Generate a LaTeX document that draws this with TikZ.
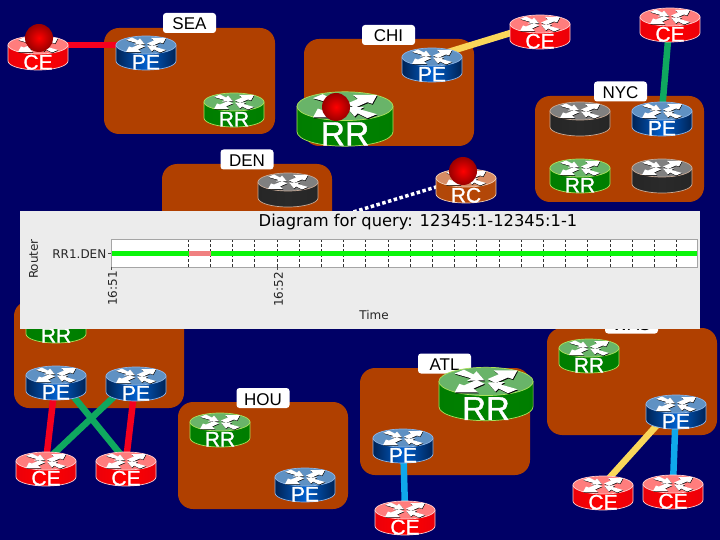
\documentclass[tikz,border=0pt]{standalone}
\usepackage{fontspec}
\setmainfont{Liberation Sans}
\newfontfamily\plotfont{DejaVu Sans}
\newfontfamily\labelfont[FakeBold=1.2]{Liberation Sans}
\pgfdeclarelayer{regions}
\pgfdeclarelayer{links}
\pgfdeclarelayer{panel}
\pgfsetlayers{regions,links,main,panel}
\definecolor{navybg}{RGB}{0,0,102}
\definecolor{regionc}{RGB}{176,64,0}
\definecolor{CEside}{RGB}{235,0,10}\definecolor{CEmid}{RGB}{255,0,0}\definecolor{CEtop}{RGB}{255,125,125}\definecolor{CEline}{RGB}{255,205,205}
\definecolor{PEside}{RGB}{0,35,85}\definecolor{PEmid}{RGB}{0,95,205}\definecolor{PEtop}{RGB}{95,145,195}\definecolor{PEline}{RGB}{140,180,230}
\definecolor{RRside}{RGB}{0,125,0}\definecolor{RRmid}{RGB}{0,130,0}\definecolor{RRtop}{RGB}{105,180,105}\definecolor{RRline}{RGB}{170,225,90}
\definecolor{GYside}{RGB}{38,38,38}\definecolor{GYmid}{RGB}{42,42,42}\definecolor{GYtop}{RGB}{128,128,128}\definecolor{GYline}{RGB}{200,170,150}
\definecolor{RCside}{RGB}{176,72,10}\definecolor{RCmid}{RGB}{182,70,5}\definecolor{RCtop}{RGB}{215,140,100}\definecolor{RCline}{RGB}{240,205,180}
\definecolor{linkred}{RGB}{245,0,30}
\definecolor{linkgreen}{RGB}{15,168,95}
\definecolor{linkyellow}{RGB}{250,215,90}
\definecolor{linkblue}{RGB}{15,168,235}
\definecolor{panelgrey}{RGB}{236,236,236}
\definecolor{framegrey}{RGB}{165,165,165}
\definecolor{barpink}{RGB}{240,128,128}
\definecolor{bargreen}{RGB}{10,245,10}
\tikzset{
 regionbox/.style={fill=regionc,rounded corners=15},
 tagbox/.style={fill=white,rounded corners=3,inner sep=0,minimum width=53,minimum height=20,text height=14pt,text depth=0pt,text=black,font=\fontsize{17}{19}\selectfont},
 rlabel/.style={text=white,inner sep=0,anchor=base,font=\labelfont\fontsize{21}{23}\selectfont,transform shape},
 linkstyle/.style={line width=6.5},
 plottext/.style={inner sep=0,text=black!85,font=\plotfont\fontsize{12}{14}\selectfont},
 gridline/.style={black!80,line width=0.6,dash pattern=on 3 off 2},
}
\newcommand{\rglyph}{%
 \fill (1,-1.5)--(8,-4.5)--(5,-7)--(20,-7)--(17,-1.5)--(14,-2.5)--(6,1)--cycle;
 \fill (-1,1.5)--(-8,4.5)--(-5,7)--(-20,7)--(-17,1.5)--(-14,2.5)--(-6,-1)--cycle;
 \fill (-20,-5)--(-14,-7.5)--(-8,-4.5)--(-6,-6.5)--(-1,-0.7)--(-12,-0.4)--(-9.5,-2)--cycle;
 \fill (20,5)--(14,7.5)--(8,4.5)--(6,6.5)--(1,0.7)--(12,0.4)--(9.5,2)--cycle;
}
% name, x, y, kind, label, scale
\newcommand{\router}[6]{%
 \begin{scope}[shift={(#2,#3)},scale=#6]
  \coordinate (#1-t) at (0,-8);
  \node[inner sep=0,minimum width=60,minimum height=34,transform shape] (#1) at (0,0) {};
  \shade[left color=#4side,right color=#4side,middle color=#4mid,draw=#4line,line width=0.7]
    (-30,-8)--(-30,8) .. controls (-30,13) and (-16.6,17) .. (0,17) .. controls (16.6,17) and (30,13) .. (30,8)--(30,-8)--cycle;
  \fill[#4top,draw=#4line,line width=0.7] (0,-8) ellipse [x radius=30,y radius=9];
  \begin{scope}[shift={(0,-8)}]
   \begin{scope}[shift={(0.4,0.6)},black]\rglyph\end{scope}
   \begin{scope}[white]\rglyph\end{scope}
  \end{scope}
  \node[rlabel] at (0,16.5) {#5};
 \end{scope}}
\newcommand{\redball}[3]{\shade[inner color=red,outer color=red!60!black,draw=none] (#2,#3) circle [radius=14] coordinate (#1);}
\begin{document}
\begin{tikzpicture}[x=1pt,y=-1pt]
\useasboundingbox (0,0) rectangle (720,540);
\begin{pgfonlayer}{regions}
 \fill[navybg] (0,0) rectangle (720,540);
 \fill[regionbox] (104,28) rectangle (275,134);
 \fill[regionbox] (304,39) rectangle (474,146);
 \fill[regionbox] (535,96) rectangle (704,202);
 \fill[regionbox] (162,164) rectangle (332,271);
 \fill[regionbox] (14,301) rectangle (184,408);
 \fill[regionbox] (178,402) rectangle (348,509);
 \fill[regionbox] (360,368) rectangle (530,475);
 \fill[regionbox] (547,328) rectangle (717,435);
 \node[tagbox] (tSEA) at (189.5,23) {SEA};
 \node[tagbox] (tCHI) at (388.5,35) {CHI};
 \node[tagbox] (tNYC) at (620.5,91.5) {NYC};
 \node[tagbox] (tDEN) at (247,159.5) {DEN};
 \node[tagbox] (tHOU) at (263,398) {HOU};
 \node[tagbox] (tATL) at (444.5,363.5) {ATL};
 \node[tagbox] (tWAS) at (631.5,323.5) {WAS};
\end{pgfonlayer}

\router{ceSEA}{38}{53}{CE}{CE}{1}
\router{peSEA}{146}{53}{PE}{PE}{1}
\router{rrSEA}{234}{110}{RR}{RR}{1}
\router{rrCHI}{345}{119}{RR}{RR}{1.6}
\router{peCHI}{432}{65}{PE}{PE}{1}
\router{ceCHI}{540}{32}{CE}{CE}{1}
\router{ceNYC}{670}{25}{CE}{CE}{1}
\router{gyNYCa}{580}{119}{GY}{}{1}
\router{peNYC}{662}{119}{PE}{PE}{1}
\router{rrNYC}{580}{176}{RR}{RR}{1}
\router{gyNYCb}{662}{176}{GY}{}{1}
\router{gyDEN}{288}{190}{GY}{}{1}
\router{rcDEN}{466}{186}{RC}{RC}{1}
\router{rrLAX}{56}{326}{RR}{RR}{1}
\router{peLAXa}{56}{383}{PE}{PE}{1}
\router{peLAXb}{136}{384}{PE}{PE}{1}
\router{ceLAXa}{46}{469}{CE}{CE}{1}
\router{ceLAXb}{126}{469}{CE}{CE}{1}
\router{rrHOU}{220}{430}{RR}{RR}{1}
\router{peHOU}{305}{485}{PE}{PE}{1}
\router{rrATL}{486}{394}{RR}{RR}{1.57}
\router{peATL}{403}{446}{PE}{PE}{1}
\router{ceATL}{405}{518}{CE}{CE}{1}
\router{rrWAS}{589}{356}{RR}{RR}{1}
\router{peWAS}{676}{412}{PE}{PE}{1}
\router{ceWASa}{603}{493}{CE}{CE}{1}
\router{ceWASb}{673}{492}{CE}{CE}{1}

\redball{ballCE}{39}{38}
\redball{ballRR}{336}{107}
\redball{ballRC}{463}{171}

\coordinate (dotEnd) at (340,216);
\begin{pgfonlayer}{links}
 \draw[linkstyle,linkred] (ceSEA-t) -- (peSEA-t);
 \draw[linkstyle,linkyellow] (peCHI-t) -- (ceCHI-t);
 \draw[linkstyle,linkgreen] (ceNYC-t) -- (peNYC-t);
 \draw[linkstyle,linkred] (peLAXa-t) -- (ceLAXa-t);
 \draw[linkstyle,linkred] (peLAXb-t) -- (ceLAXb-t);
 \draw[linkstyle,linkgreen] (peLAXa-t) -- (ceLAXb-t);
 \draw[linkstyle,linkgreen] (peLAXb-t) -- (ceLAXa-t);
 \draw[linkstyle,linkblue] (peATL-t) -- (ceATL-t);
 \draw[linkstyle,linkyellow] (peWAS-t) -- (ceWASa-t);
 \draw[linkstyle,linkblue] (peWAS-t) -- (ceWASb-t);
 \draw[white,line width=3.5,dash pattern=on 3.5 off 2.5] (rcDEN-t) -- (dotEnd);
\end{pgfonlayer}

\begin{pgfonlayer}{panel}
 \fill[panelgrey] (20,211) rectangle (700,329);
 \node[inner sep=0,text=black,font=\plotfont\fontsize{16.3}{19}\selectfont] (title) at (418,222.5) {Diagram for query: 12345:1-12345:1-1};
 \fill[white] (111,239) rectangle (697,267);
 \foreach \k in {0,...,22} \draw[gridline] (188+22.2*\k,239) -- (188+22.2*\k,267);
 \fill[bargreen] (111,251) rectangle (697,256);
 \fill[barpink] (189,251) rectangle (211,256);
 \draw[framegrey,line width=0.8] (111,239) rectangle (697,267);
 \draw[black!70,line width=0.6] (108,253.5) -- (111,253.5) (111,267) -- (111,270) (277.5,267) -- (277.5,270);
 \node[plottext,rotate=90] (yaxis) at (33.5,259) {Router};
 \node[plottext,anchor=east] (rowname) at (106.5,254.5) {RR1.DEN};
 \node[plottext,rotate=90,anchor=east] (t1) at (112.5,271) {16:51};
 \node[plottext,rotate=90,anchor=east] (t2) at (278.5,272) {16:52};
 \node[plottext] (xaxis) at (374,315.5) {Time};
\end{pgfonlayer}
\end{tikzpicture}
\end{document}
